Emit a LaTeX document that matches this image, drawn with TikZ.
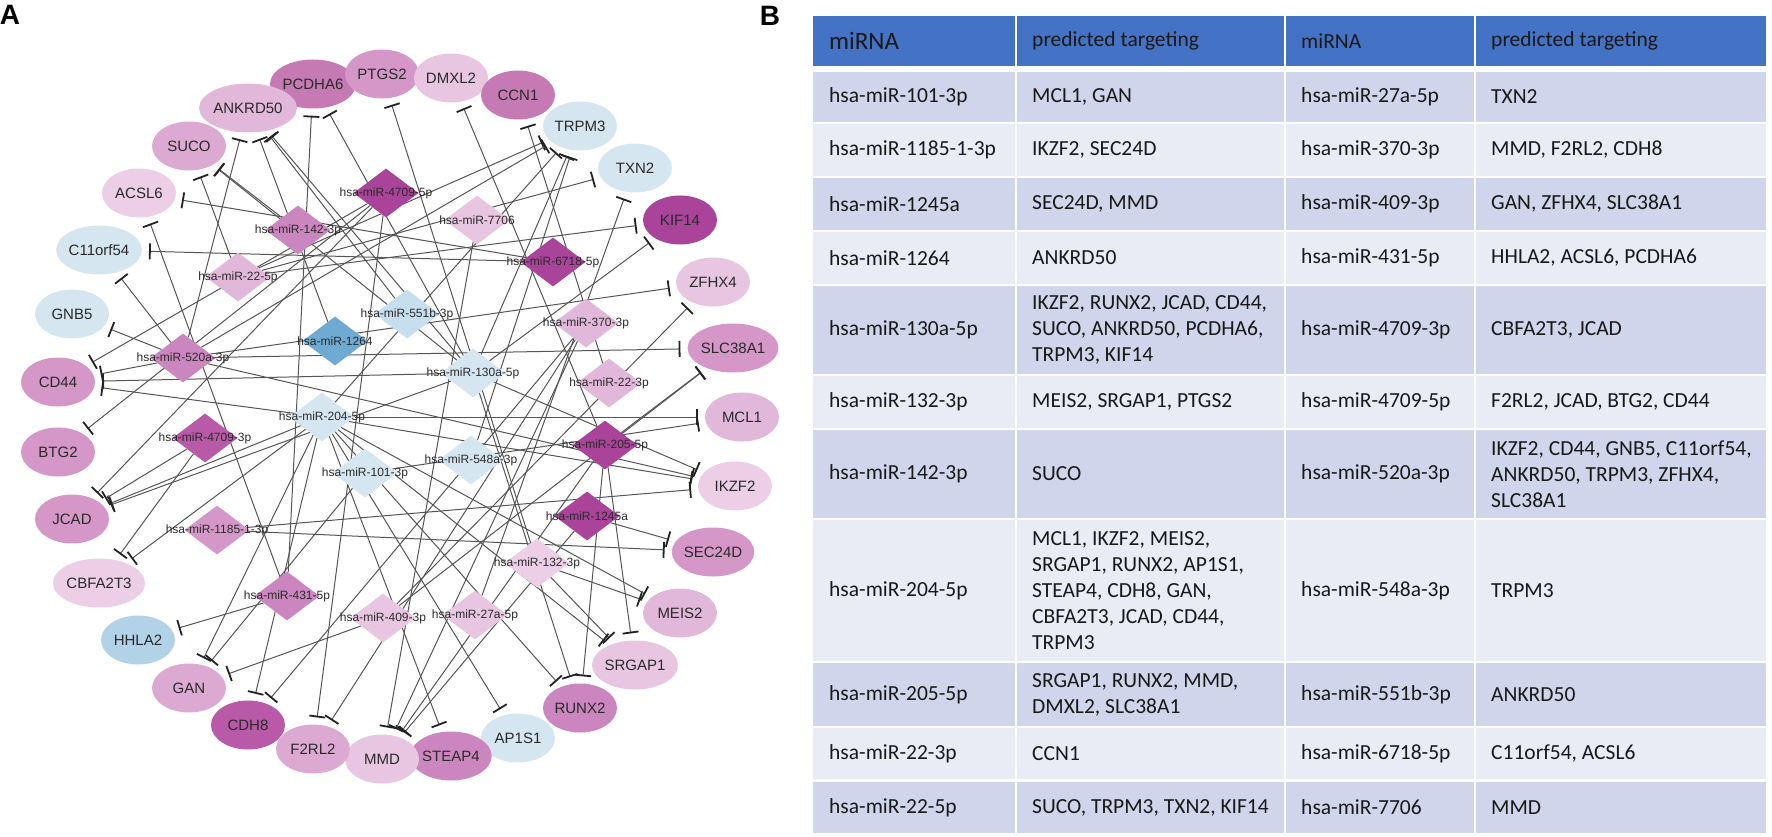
\documentclass[tikz,border=0pt]{standalone}
\usepackage{fontspec}
\setmainfont{Liberation Sans}
\newfontfamily\tabfont{Carlito}
\usetikzlibrary{shapes.geometric,arrows.meta}
\pgfdeclarelayer{edgelayer}
\pgfsetlayers{edgelayer,main}
\definecolor{txt}{HTML}{2A2A2A}
\definecolor{edgec}{HTML}{555555}
\definecolor{barc}{HTML}{222222}
\definecolor{hdr}{HTML}{4472C4}
\definecolor{dk}{HTML}{CFD5EA}
\definecolor{lt}{HTML}{E9EBF5}
% node colours
\definecolor{pA}{HTML}{AA449B}% dark magenta
\definecolor{pB}{HTML}{B85AA8}
\definecolor{pC}{HTML}{C57AB4}
\definecolor{pD}{HTML}{CC86BF}
\definecolor{pE}{HTML}{D497C8}
\definecolor{pF}{HTML}{DCA9D2}
\definecolor{pG}{HTML}{E2B8DA}
\definecolor{pH}{HTML}{E8C6E1}
\definecolor{pI}{HTML}{ECCFE6}
\definecolor{bA}{HTML}{D5E6F1}
\definecolor{bB}{HTML}{B2D2E8}
\definecolor{bC}{HTML}{6FAAD3}
\definecolor{bD}{HTML}{C7DEEF}
\begin{document}
\begin{tikzpicture}[x=1pt,y=-1pt,
  gene/.style={ellipse,inner sep=0pt,minimum width=74pt,minimum height=49pt,
    font=\fontsize{15}{15}\selectfont,text=txt},
  mir/.style={diamond,inner sep=0pt,minimum width=65pt,minimum height=49pt},
  lab/.style={font=\fontsize{12}{12}\selectfont,text=txt,inner sep=0pt},
  inh/.style={draw=edgec,line width=1pt,shorten >=7pt,
    -{Bar[width=16pt,line width=1.8pt,color=barc]}},
  tc/.style={anchor=west,inner sep=0pt,align=left,text=black!90,
    font=\tabfont\fontsize{21.5}{26}\selectfont},
  panel/.style={font=\bfseries\fontsize{28}{28}\selectfont,inner sep=0pt}
]
\useasboundingbox (0,0) rectangle (1772,837);

\node[panel] (labA) at (10,15) {A};
\node[panel] (labB) at (770,16) {B};

% ---------- target genes (outer ring) ----------
\node[gene,fill=pC] (PCDHA6) at (313,84) {PCDHA6};
\node[gene,fill=pE] (PTGS2) at (382,74) {PTGS2};
\node[gene,fill=pH] (DMXL2) at (451,78) {DMXL2};
\node[gene,fill=pC] (CCN1) at (518,95) {CCN1};
\node[gene,fill=bA] (TRPM3) at (580,126) {TRPM3};
\node[gene,fill=bA] (TXN2) at (635,168) {TXN2};
\node[gene,fill=pA] (KIF14) at (680,220) {KIF14};
\node[gene,fill=pH] (ZFHX4) at (713,282) {ZFHX4};
\node[gene,fill=pE] (SLC38A1) at (733,348) {SLC38A1};
\node[gene,fill=pG] (MCL1) at (742,417) {MCL1};
\node[gene,fill=pI] (IKZF2) at (735,486) {IKZF2};
\node[gene,fill=pE] (SEC24D) at (713,552) {SEC24D};
\node[gene,fill=pG] (MEIS2) at (680,613) {MEIS2};
\node[gene,fill=pH] (SRGAP1) at (635,665) {SRGAP1};
\node[gene,fill=pD] (RUNX2) at (580,708) {RUNX2};
\node[gene,fill=bA] (AP1S1) at (518,738) {AP1S1};
\node[gene,fill=pD] (STEAP4) at (451,756) {STEAP4};
\node[gene,fill=pH] (MMD) at (382,759) {MMD};
\node[gene,fill=pF] (F2RL2) at (313,749) {F2RL2};
\node[gene,fill=pB] (CDH8) at (248,725) {CDH8};
\node[gene,fill=pF] (GAN) at (189,688) {GAN};
\node[gene,fill=bB] (HHLA2) at (138,640) {HHLA2};
\node[gene,fill=pI] (CBFA2T3) at (99,583) {CBFA2T3};
\node[gene,fill=pE] (JCAD) at (72,519) {JCAD};
\node[gene,fill=pE] (BTG2) at (58,452) {BTG2};
\node[gene,fill=pE] (CD44) at (58,382) {CD44};
\node[gene,fill=bA] (GNB5) at (72,314) {GNB5};
\node[gene,fill=bA] (C11orf54) at (99,250) {C11orf54};
\node[gene,fill=pI] (ACSL6) at (139,193) {ACSL6};
\node[gene,fill=pF] (SUCO) at (189,146) {SUCO};
\node[gene,fill=pG] (ANKRD50) at (248,108) {ANKRD50};

% ---------- miRNAs (diamonds) ----------
\node[mir,fill=pA,label={[lab]center:hsa-miR-4709-5p}] (m47095) at (386,193) {};
\node[mir,fill=pH,label={[lab]center:hsa-miR-7706}] (m7706) at (477,220) {};
\node[mir,fill=pA,label={[lab]center:hsa-miR-6718-5p}] (m6718) at (553,262) {};
\node[mir,fill=pD,label={[lab]center:hsa-miR-142-3p}] (m142) at (298,230) {};
\node[mir,fill=pG,label={[lab]center:hsa-miR-22-5p}] (m225) at (238,277) {};
\node[mir,fill=bD,label={[lab]center:hsa-miR-551b-3p}] (m551) at (407,314) {};
\node[mir,fill=bC,label={[lab]center:hsa-miR-1264}] (m1264) at (335,341) {};
\node[mir,fill=pG,label={[lab]center:hsa-miR-370-3p}] (m370) at (586,323) {};
\node[mir,fill=pD,label={[lab]center:hsa-miR-520a-3p}] (m520) at (183,358) {};
\node[mir,fill=bA,label={[lab]center:hsa-miR-130a-5p}] (m130) at (473,373) {};
\node[mir,fill=pG,label={[lab]center:hsa-miR-22-3p}] (m223) at (609,383) {};
\node[mir,fill=bA,label={[lab]center:hsa-miR-204-5p}] (m204) at (322,417) {};
\node[mir,fill=pB,label={[lab]center:hsa-miR-4709-3p}] (m47093) at (205,438) {};
\node[mir,fill=pA,label={[lab]center:hsa-miR-205-5p}] (m205) at (605,445) {};
\node[mir,fill=bA,label={[lab]center:hsa-miR-548a-3p}] (m548) at (471,460) {};
\node[mir,fill=bA,label={[lab]center:hsa-miR-101-3p}] (m101) at (365,473) {};
\node[mir,fill=pE,label={[lab]center:hsa-miR-1185-1-3p}] (m1185) at (217,530) {};
\node[mir,fill=pA,label={[lab]center:hsa-miR-1245a}] (m1245) at (587,516) {};
\node[mir,fill=pI,label={[lab]center:hsa-miR-132-3p}] (m132) at (537,563) {};
\node[mir,fill=pD,label={[lab]center:hsa-miR-431-5p}] (m431) at (287,596) {};
\node[mir,fill=pH,label={[lab]center:hsa-miR-409-3p}] (m409) at (383,618) {};
\node[mir,fill=pH,label={[lab]center:hsa-miR-27a-5p}] (m27) at (475,615) {};

% ---------- edges ----------
\begin{pgfonlayer}{edgelayer}
\foreach \s/\t in {
  m101/MCL1, m101/GAN,
  m1185/IKZF2, m1185/SEC24D,
  m1245/SEC24D, m1245/MMD,
  m1264/ANKRD50,
  m130/IKZF2, m130/RUNX2, m130/JCAD, m130/CD44, m130/SUCO, m130/ANKRD50, m130/PCDHA6, m130/TRPM3, m130/KIF14,
  m132/MEIS2, m132/SRGAP1, m132/PTGS2,
  m142/SUCO,
  m204/MCL1, m204/IKZF2, m204/MEIS2, m204/SRGAP1, m204/RUNX2, m204/AP1S1, m204/STEAP4, m204/CDH8, m204/GAN, m204/CBFA2T3, m204/JCAD, m204/CD44, m204/TRPM3,
  m205/SRGAP1, m205/RUNX2, m205/MMD, m205/DMXL2, m205/SLC38A1,
  m223/CCN1,
  m225/SUCO, m225/TRPM3, m225/TXN2, m225/KIF14,
  m27/TXN2,
  m370/MMD, m370/F2RL2, m370/CDH8,
  m409/GAN, m409/ZFHX4, m409/SLC38A1,
  m431/HHLA2, m431/ACSL6, m431/PCDHA6,
  m47093/CBFA2T3, m47093/JCAD,
  m47095/F2RL2, m47095/JCAD, m47095/BTG2, m47095/CD44,
  m520/IKZF2, m520/CD44, m520/GNB5, m520/C11orf54, m520/ANKRD50, m520/TRPM3, m520/ZFHX4, m520/SLC38A1,
  m548/TRPM3,
  m551/ANKRD50,
  m6718/C11orf54, m6718/ACSL6,
  m7706/MMD}
  \draw[inh] (\s) -- (\t);
\end{pgfonlayer}

% ---------- table ----------
\fill[hdr] (813,16) rectangle (1015,66);
\fill[hdr] (1017,16) rectangle (1284,66);
\fill[hdr] (1286,16) rectangle (1474,66);
\fill[hdr] (1476,16) rectangle (1766,66);
\foreach \ya/\yb/\c in {72/122/dk,124/176/lt,178/230/dk,232/284/lt,286/374/dk,376/428/lt,430/518/dk,520/661/lt,663/726/dk,728/779/lt,782/833/dk}{
  \fill[\c] (813,\ya) rectangle (1015,\yb);
  \fill[\c] (1017,\ya) rectangle (1284,\yb);
  \fill[\c] (1286,\ya) rectangle (1474,\yb);
  \fill[\c] (1476,\ya) rectangle (1766,\yb);
}
% header
\node[tc,font=\tabfont\fontsize{25}{26}\selectfont] (h1) at (829,41) {miRNA};
\node[tc] (h2) at (1032,41) {predicted targeting};
\node[tc] (h3) at (1301,41) {miRNA};
\node[tc] (h4) at (1491,41) {predicted targeting};
% rows
\node[tc] (r1a) at (829,97) {hsa-miR-101-3p};
\node[tc] (r1b) at (1032,97) {MCL1, GAN};
\node[tc] (r1c) at (1301,97) {hsa-miR-27a-5p};
\node[tc] (r1d) at (1491,97) {TXN2};
\node[tc] (r2a) at (829,150) {hsa-miR-1185-1-3p};
\node[tc] (r2b) at (1032,150) {IKZF2, SEC24D};
\node[tc] (r2c) at (1301,150) {hsa-miR-370-3p};
\node[tc] (r2d) at (1491,150) {MMD, F2RL2, CDH8};
\node[tc] (r3a) at (829,204) {hsa-miR-1245a};
\node[tc] (r3b) at (1032,204) {SEC24D, MMD};
\node[tc] (r3c) at (1301,204) {hsa-miR-409-3p};
\node[tc] (r3d) at (1491,204) {GAN, ZFHX4, SLC38A1};
\node[tc] (r4a) at (829,258) {hsa-miR-1264};
\node[tc] (r4b) at (1032,258) {ANKRD50};
\node[tc] (r4c) at (1301,258) {hsa-miR-431-5p};
\node[tc] (r4d) at (1491,258) {HHLA2, ACSL6, PCDHA6};
\node[tc] (r5a) at (829,330) {hsa-miR-130a-5p};
\node[tc] (r5b) at (1032,330) {IKZF2, RUNX2, JCAD, CD44,\\SUCO, ANKRD50, PCDHA6,\\TRPM3, KIF14};
\node[tc] (r5c) at (1301,330) {hsa-miR-4709-3p};
\node[tc] (r5d) at (1491,330) {CBFA2T3, JCAD};
\node[tc] (r6a) at (829,402) {hsa-miR-132-3p};
\node[tc] (r6b) at (1032,402) {MEIS2, SRGAP1, PTGS2};
\node[tc] (r6c) at (1301,402) {hsa-miR-4709-5p};
\node[tc] (r6d) at (1491,402) {F2RL2, JCAD, BTG2, CD44};
\node[tc] (r7a) at (829,474) {hsa-miR-142-3p};
\node[tc] (r7b) at (1032,474) {SUCO};
\node[tc] (r7c) at (1301,474) {hsa-miR-520a-3p};
\node[tc] (r7d) at (1491,474) {IKZF2, CD44, GNB5, C11orf54,\\ANKRD50, TRPM3, ZFHX4,\\SLC38A1};
\node[tc] (r8a) at (829,590.5) {hsa-miR-204-5p};
\node[tc] (r8b) at (1032,590.5) {MCL1, IKZF2, MEIS2,\\SRGAP1, RUNX2, AP1S1,\\STEAP4, CDH8, GAN,\\CBFA2T3, JCAD, CD44,\\TRPM3};
\node[tc] (r8c) at (1301,590.5) {hsa-miR-548a-3p};
\node[tc] (r8d) at (1491,590.5) {TRPM3};
\node[tc] (r9a) at (829,694.5) {hsa-miR-205-5p};
\node[tc] (r9b) at (1032,694.5) {SRGAP1, RUNX2, MMD,\\DMXL2, SLC38A1};
\node[tc] (r9c) at (1301,694.5) {hsa-miR-551b-3p};
\node[tc] (r9d) at (1491,694.5) {ANKRD50};
\node[tc] (r10a) at (829,753.5) {hsa-miR-22-3p};
\node[tc] (r10b) at (1032,753.5) {CCN1};
\node[tc] (r10c) at (1301,753.5) {hsa-miR-6718-5p};
\node[tc] (r10d) at (1491,753.5) {C11orf54, ACSL6};
\node[tc] (r11a) at (829,807.5) {hsa-miR-22-5p};
\node[tc] (r11b) at (1032,807.5) {SUCO, TRPM3, TXN2, KIF14};
\node[tc] (r11c) at (1301,807.5) {hsa-miR-7706};
\node[tc] (r11d) at (1491,807.5) {MMD};
\end{tikzpicture}
\end{document}
